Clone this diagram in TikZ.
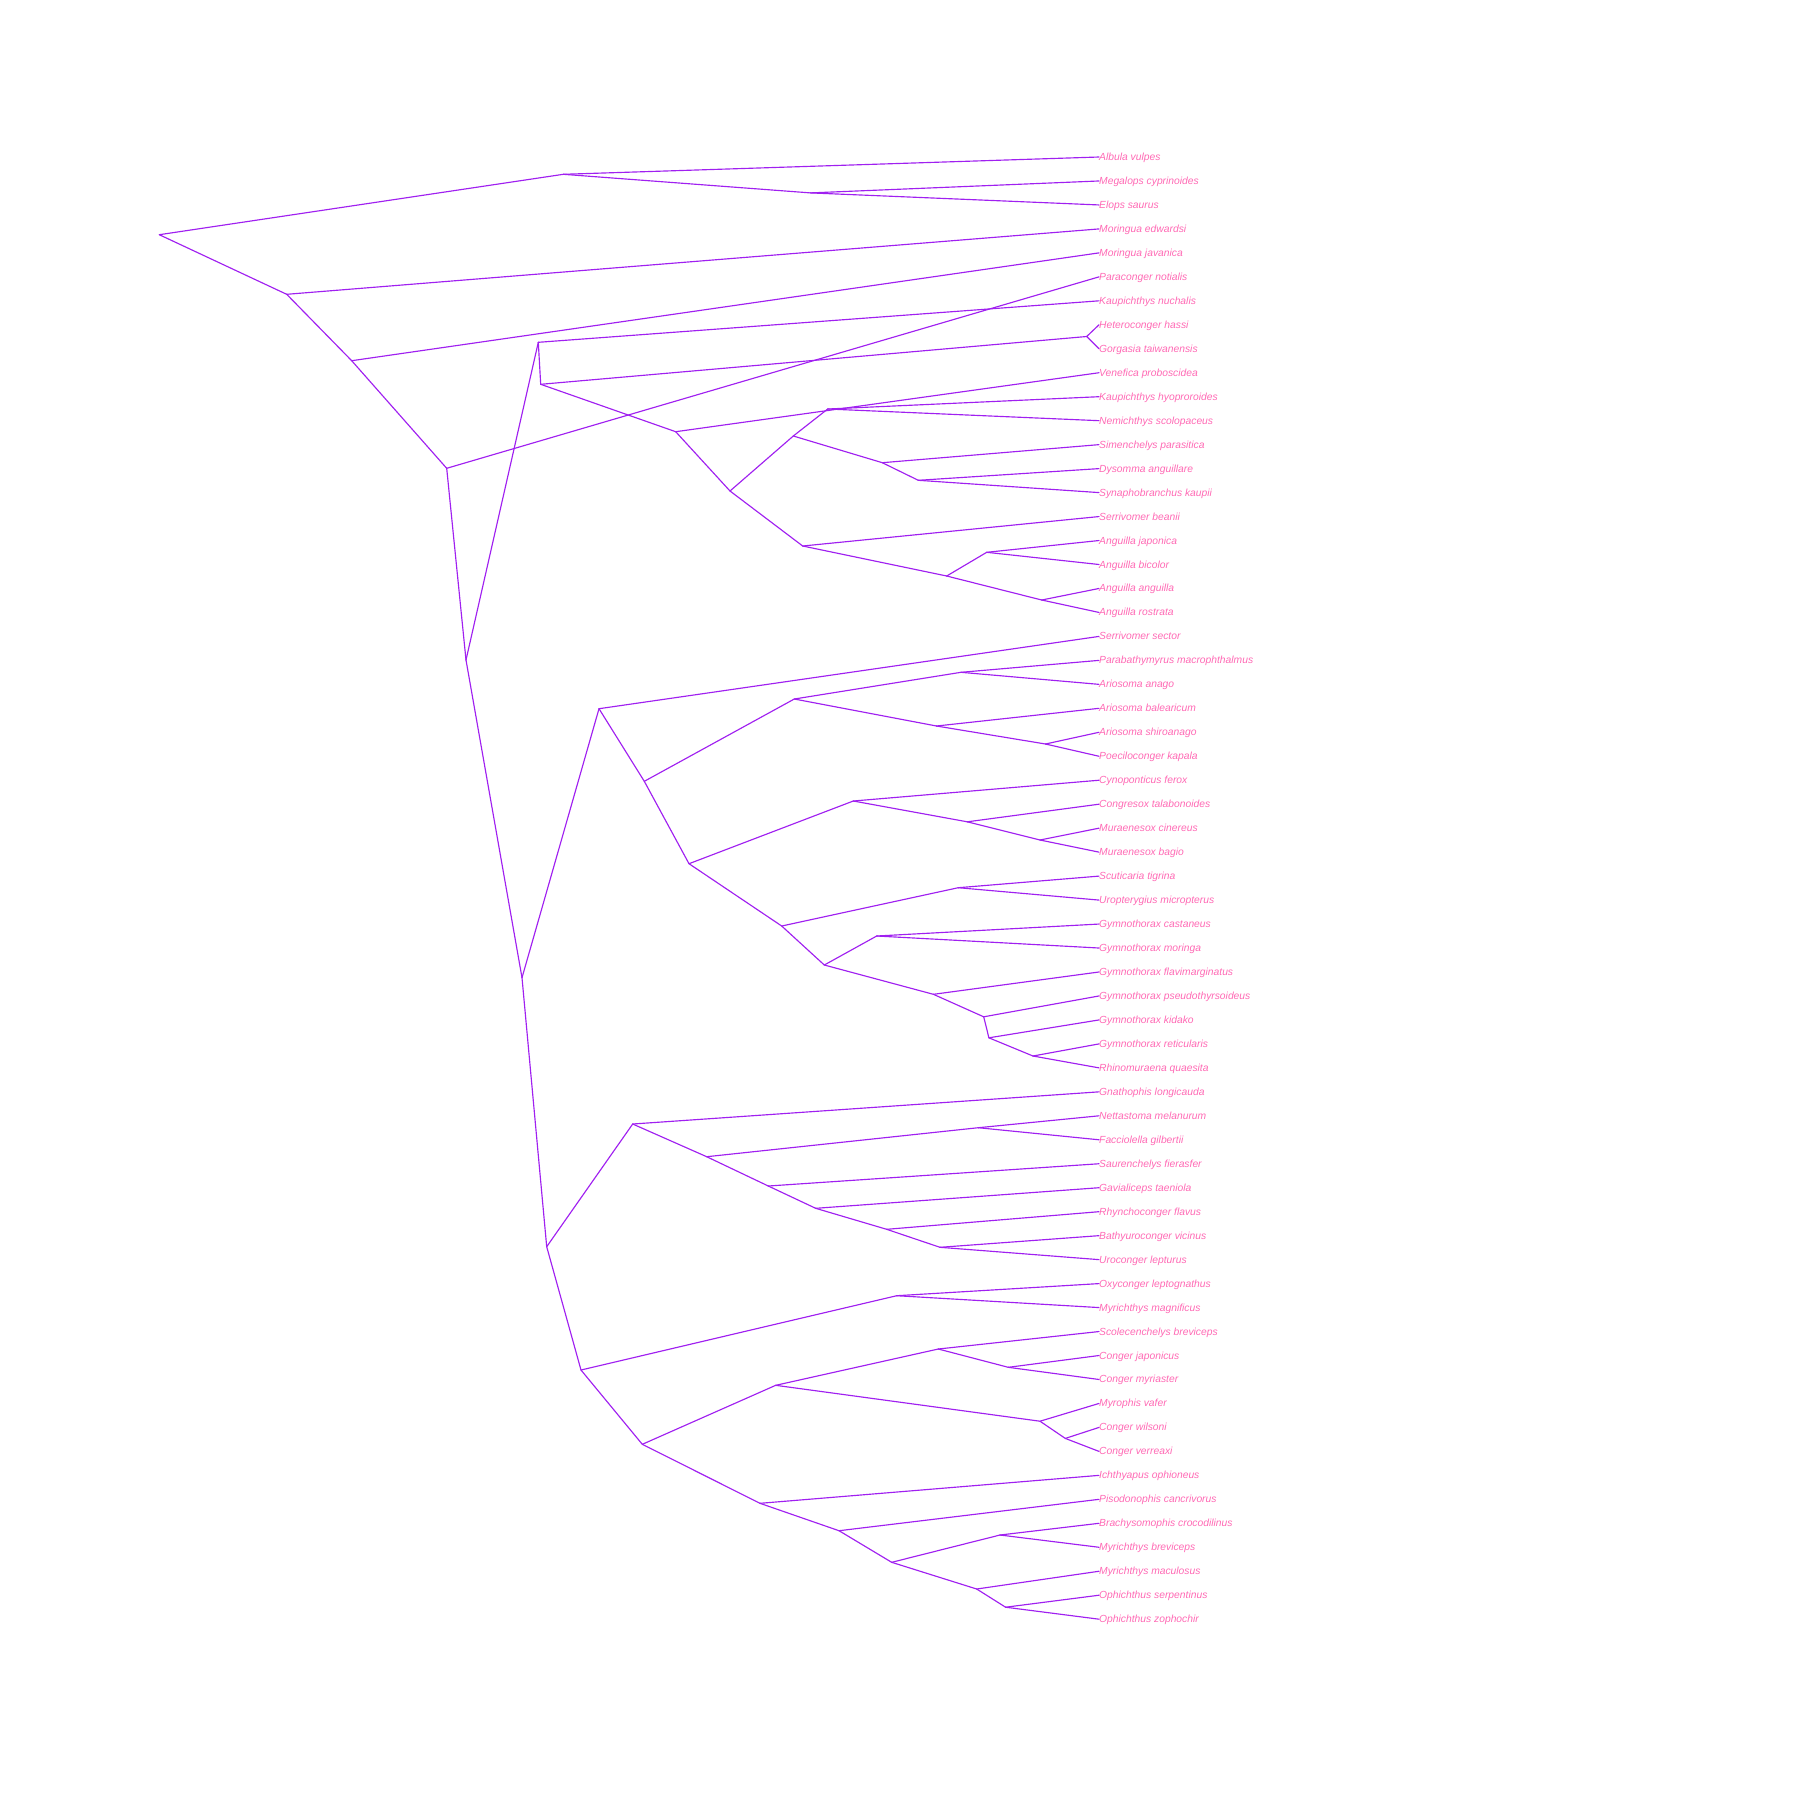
\documentclass[tikz,border=0pt]{standalone}
\usepackage{fontspec}
\setmainfont{Liberation Sans}
\definecolor{branchpurple}{HTML}{A020F0}
\definecolor{tippink}{HTML}{FF69B4}
\tikzset{
  branch/.style = {draw=branchpurple, line width=1.15pt, line cap=round, line join=round},
  taxon/.style  = {anchor=west, inner sep=0pt, text height=7pt, text depth=0pt,
                   text=tippink, font=\fontsize{10.3}{12}\selectfont\itshape}
}

\begin{document}
\begin{tikzpicture}[x=1pt, y=-1pt]
  \useasboundingbox (0,0) rectangle (1800,1800);
  % taxa
  \foreach \sp [count=\i] in {Albula vulpes, Megalops cyprinoides, Elops saurus,
      Moringua edwardsi, Moringua javanica, Paraconger notialis, Kaupichthys nuchalis,
      Heteroconger hassi, Gorgasia taiwanensis, Venefica proboscidea,
      Kaupichthys hyoproroides, Nemichthys scolopaceus, Simenchelys parasitica,
      Dysomma anguillare, Synaphobranchus kaupii, Serrivomer beanii, Anguilla japonica,
      Anguilla bicolor, Anguilla anguilla, Anguilla rostrata, Serrivomer sector,
      Parabathymyrus macrophthalmus, Ariosoma anago, Ariosoma balearicum,
      Ariosoma shiroanago, Poeciloconger kapala, Cynoponticus ferox,
      Congresox talabonoides, Muraenesox cinereus, Muraenesox bagio, Scuticaria tigrina,
      Uropterygius micropterus, Gymnothorax castaneus, Gymnothorax moringa,
      Gymnothorax flavimarginatus, Gymnothorax pseudothyrsoideus, Gymnothorax kidako,
      Gymnothorax reticularis, Rhinomuraena quaesita, Gnathophis longicauda,
      Nettastoma melanurum, Facciolella gilbertii, Saurenchelys fierasfer,
      Gavialiceps taeniola, Rhynchoconger flavus, Bathyuroconger vicinus,
      Uroconger lepturus, Oxyconger leptognathus, Myrichthys magnificus,
      Scolecenchelys breviceps, Conger japonicus, Conger myriaster, Myrophis vafer,
      Conger wilsoni, Conger verreaxi, Ichthyapus ophioneus, Pisodonophis cancrivorus,
      Brachysomophis crocodilinus, Myrichthys breviceps, Myrichthys maculosus,
      Ophichthus serpentinus, Ophichthus zophochir}
    \node[taxon] (t\i) at (1099, {157+23.97*(\i-1)}) {\sp};

  % inner nodes
  \coordinate (root) at (159.3,234.7);
  \coordinate (ame)  at (563.3,174.3);
  \coordinate (me)   at (810.5,192.9);
  \coordinate (n1)   at (286.7,294.3);
  \coordinate (n2)   at (351.7,360.7);
  \coordinate (n3)   at (446.7,468.3);
  \coordinate (n4)   at (466,660);
  \coordinate (n5)   at (538.3,342.3);
  \coordinate (n6)   at (540.7,384.3);
  \coordinate (hg)   at (1086.7,336.5);
  \coordinate (n7)   at (675.7,431.7);
  \coordinate (n8)   at (730,491);
  \coordinate (n9)   at (793.3,436);
  \coordinate (n10)  at (827.7,409);
  \coordinate (n11)  at (882.3,462.7);
  \coordinate (n12)  at (918.3,480.3);
  \coordinate (n13)  at (802.7,546);
  \coordinate (n14)  at (946.7,576);
  \coordinate (n15)  at (986.7,552.3);
  \coordinate (n16)  at (1041.7,600);
  \coordinate (big)  at (522,977.7);
  \coordinate (n17)  at (599,708.7);
  \coordinate (n18)  at (644.3,781.3);
  \coordinate (n19)  at (794.3,699);
  \coordinate (n20)  at (961,672.3);
  \coordinate (n21)  at (936.5,726);
  \coordinate (n21b) at (1045.5,744);
  \coordinate (n22)  at (689,863.7);
  \coordinate (n23)  at (853.3,801);
  \coordinate (n24)  at (967.3,821.8);
  \coordinate (n24b) at (1040,840);
  \coordinate (n25)  at (781.7,926);
  \coordinate (n26)  at (958.3,887.7);
  \coordinate (n27)  at (824.3,965);
  \coordinate (n28)  at (876.7,936);
  \coordinate (n29)  at (933.4,994.3);
  \coordinate (n29b) at (983.7,1016.8);
  \coordinate (n29c) at (988.9,1037.8);
  \coordinate (n29d) at (1033,1056);
  \coordinate (n30)  at (546.7,1246.7);
  \coordinate (n31)  at (632.7,1124);
  \coordinate (n32)  at (706.7,1156.7);
  \coordinate (n33)  at (978.3,1127.7);
  \coordinate (n34)  at (768.3,1186);
  \coordinate (n35)  at (815.7,1208.3);
  \coordinate (n36)  at (886.7,1229.3);
  \coordinate (n37)  at (940,1247.3);
  \coordinate (n38)  at (581,1370);
  \coordinate (n39)  at (896.7,1295.7);
  \coordinate (n40)  at (642.3,1444.3);
  \coordinate (n41)  at (775.7,1385.3);
  \coordinate (n42)  at (938.3,1349);
  \coordinate (n42b) at (1008.3,1367.3);
  \coordinate (n43)  at (1040,1421.2);
  \coordinate (n44)  at (1065.3,1438.4);
  \coordinate (n45)  at (760,1503.3);
  \coordinate (n46)  at (839,1530.7);
  \coordinate (n47)  at (891.7,1562.3);
  \coordinate (n48)  at (1000,1535);
  \coordinate (n49)  at (976.7,1589);
  \coordinate (n50)  at (1005.6,1607.2);

  % branches
  \foreach \a/\b in {root/ame, ame/t1.west, ame/me, me/t2.west, me/t3.west,
      root/n1, n1/t4.west, n1/n2, n2/t5.west, n2/n3, n3/t6.west, n3/n4,
      n4/n5, n5/t7.west, n5/n6, n6/hg, hg/t8.west, hg/t9.west, n6/n7, n7/t10.west, n7/n8,
      n8/n9, n9/n10, n10/t11.west, n10/t12.west, n9/n11, n11/t13.west, n11/n12,
      n12/t14.west, n12/t15.west, n8/n13, n13/t16.west, n13/n14, n14/n15,
      n15/t17.west, n15/t18.west, n14/n16, n16/t19.west, n16/t20.west}
    \draw[branch] (\a) -- (\b);
  \foreach \a/\b in {n4/big, big/n17, n17/t21.west, n17/n18, n18/n19, n19/n20,
      n20/t22.west, n20/t23.west, n19/n21, n21/t24.west, n21/n21b, n21b/t25.west,
      n21b/t26.west, n18/n22, n22/n23, n23/t27.west, n23/n24, n24/t28.west, n24/n24b,
      n24b/t29.west, n24b/t30.west, n22/n25, n25/n26, n26/t31.west, n26/t32.west,
      n25/n27, n27/n28, n28/t33.west, n28/t34.west, n27/n29, n29/t35.west, n29/n29b,
      n29b/t36.west, n29b/n29c, n29c/t37.west, n29c/n29d, n29d/t38.west, n29d/t39.west}
    \draw[branch] (\a) -- (\b);
  \foreach \a/\b in {big/n30, n30/n31, n31/t40.west, n31/n32, n32/n33, n33/t41.west,
      n33/t42.west, n32/n34, n34/t43.west, n34/n35, n35/t44.west, n35/n36, n36/t45.west,
      n36/n37, n37/t46.west, n37/t47.west, n30/n38, n38/n39, n39/t48.west, n39/t49.west,
      n38/n40, n40/n41, n41/n42, n42/t50.west, n42/n42b, n42b/t51.west, n42b/t52.west,
      n41/n43, n43/t53.west, n43/n44, n44/t54.west, n44/t55.west, n40/n45, n45/t56.west,
      n45/n46, n46/t57.west, n46/n47, n47/n48, n48/t58.west, n48/t59.west, n47/n49,
      n49/t60.west, n49/n50, n50/t61.west, n50/t62.west}
    \draw[branch] (\a) -- (\b);
\end{tikzpicture}
\end{document}
